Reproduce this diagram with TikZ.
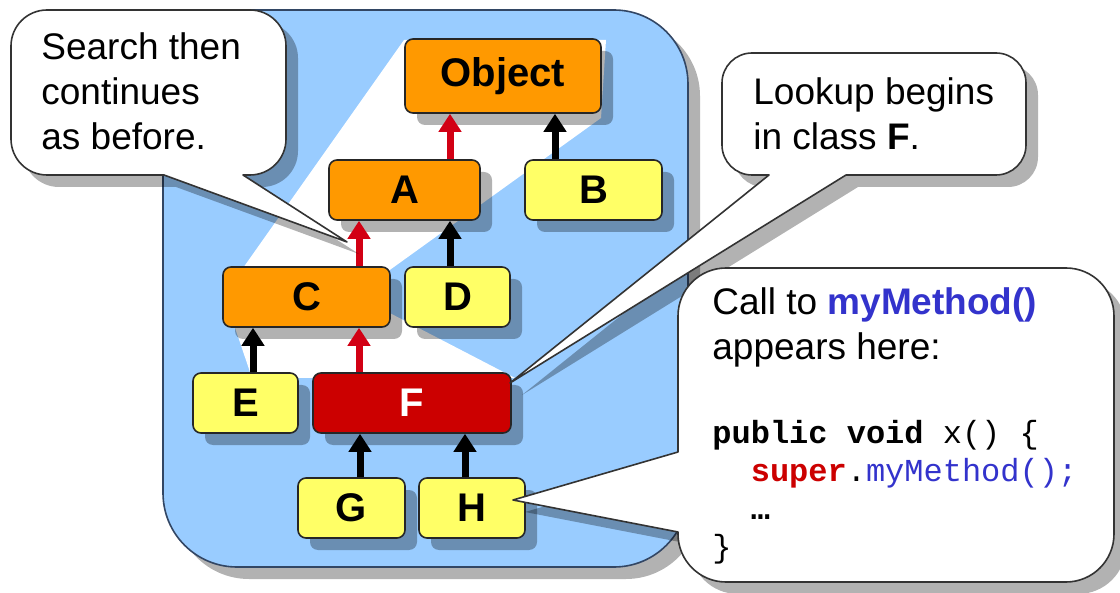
\documentclass[tikz,border=0pt]{standalone}
\usepackage{fontspec}
\setmainfont{Liberation Sans}
\setmonofont{Liberation Mono}
\usetikzlibrary{arrows.meta,shadows}

\definecolor{panelblue}{RGB}{153,204,255}
\definecolor{panelline}{RGB}{50,70,100}
\definecolor{boxorange}{RGB}{255,153,0}
\definecolor{boxyellow}{RGB}{255,255,102}
\definecolor{boxred}{RGB}{204,0,0}
\definecolor{arrowred}{RGB}{210,0,20}
\definecolor{codeblue}{RGB}{51,51,204}

\begin{document}
\begin{tikzpicture}[x=0.5pt,y=-0.5pt,line join=round,
    softshadow/.style={drop shadow={shadow xshift=6pt,shadow yshift=-6pt,fill=black,opacity=0.3}},
    cls/.style={draw=black!85,line width=0.8pt,rounded corners=4pt,minimum height=30pt,inner sep=0pt,
        font=\fontsize{20}{20}\selectfont\bfseries,softshadow},
    up/.style={draw=black,line width=3.5pt,-{Triangle[width=11pt,length=9pt]}},
    redup/.style={up,draw=arrowred,color=arrowred},
    callout/.style={draw=black!80,line width=0.8pt,fill=white,softshadow},
    txt/.style={font=\fontsize{18.5}{22.5}\selectfont,align=left,anchor=base west,inner sep=0pt}]

    \useasboundingbox (0,0) rectangle (1120,593);

    % Blue panel
    \draw [fill=panelblue,draw=panelline,line width=0.8pt,rounded corners=37pt,softshadow]
        (163,10) rectangle (688,567);

    % White band behind the lookup path
    \fill [white] (404,40) -- (606,40) -- (601,118) -- (355,295) -- (515,378)
        -- (252,378) -- (224,295) -- cycle;

    % Classes
    \node [cls,fill=boxorange,minimum width=98pt,minimum height=37pt] (obj) at (503,76) {Object};
    \node [cls,fill=boxorange,minimum width=75.5pt] (a) at (404.5,190) {A};
    \node [cls,fill=boxyellow,minimum width=68.5pt] (b) at (593.5,190) {B};
    \node [cls,fill=boxorange,minimum width=83.5pt] (c) at (306.5,297) {C};
    \node [cls,fill=boxyellow,minimum width=52.5pt] (d) at (457.5,297) {D};
    \node [cls,fill=boxyellow,minimum width=52.5pt] (e) at (245.5,403) {E};
    \node [cls,fill=boxred,text=white,minimum width=99pt] (f) at (412,403) {F};
    \node [cls,fill=boxyellow,minimum width=53.5pt] (g) at (351.5,508) {G};
    \node [cls,fill=boxyellow,minimum width=53pt] (h) at (472,508) {H};

    % Inheritance arrows
    \draw [redup] ([xshift=22.75pt]a.north) -- ([xshift=-26.5pt]obj.south);
    \draw [up] ([xshift=-19.25pt]b.north) -- ([xshift=26pt]obj.south);
    \draw [redup] ([xshift=26.25pt]c.north) -- ([xshift=-22.75pt]a.south);
    \draw [up] ([xshift=-3.75pt]d.north) -- ([xshift=22.75pt]a.south);
    \draw [up] ([xshift=3.75pt]e.north) -- ([xshift=-26.75pt]c.south);
    \draw [redup] ([xshift=-26.5pt]f.north) -- ([xshift=26.25pt]c.south);
    \draw [up] ([xshift=4.25pt]g.north) -- ([xshift=-26pt]f.south);
    \draw [up] ([xshift=-3.5pt]h.north) -- ([xshift=26.5pt]f.south);

    % Callout: search continues
    \draw [callout] (347,242) -- (164,175) [rounded corners=18pt] -- (11,175) -- (11,10)
        -- (286,10) -- (286,175) [sharp corners] -- (243,175) -- cycle;
    \node [txt] (searchtext) at (41,150) {Search then\\continues\\as before.};

    % Callout: lookup begins
    \draw [callout] (510,383) -- (769,175) [rounded corners=15pt] -- (722,175) -- (722,53)
        -- (1026,53) -- (1026,175) [sharp corners] -- (846,175) -- cycle;
    \node [txt] (lookuptext) at (753,150) {Lookup begins\\in class \textbf{F}.};

    % Callout: call site
    \draw [callout] (513,500) -- (678,452) [rounded corners=24pt] -- (678,268) -- (1114,268)
        -- (1114,582) -- (678,582) [sharp corners] -- (678,532) -- cycle;
    \node [txt] (calltext) at (712,360) {Call to \textcolor{codeblue}{\textbf{myMethod()}}\\appears here:};
    \node [txt,font=\ttfamily\fontsize{16}{19}\selectfont] (code) at (712,557)
        {\textbf{public void} x() \{\\
         \phantom{xx}\textcolor{boxred}{\textbf{super}}.\textcolor{codeblue}{myMethod();}\\
         \phantom{xx}\textbf{…}\\
         \}};

\end{tikzpicture}
\end{document}
